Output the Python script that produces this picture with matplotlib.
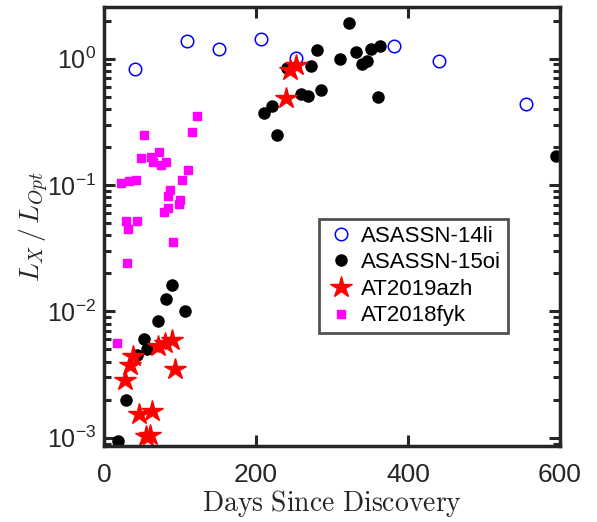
import numpy as np
import matplotlib
matplotlib.use("Agg")
import matplotlib.pyplot as plt

plt.rcParams['font.family'] = ['Liberation Sans', 'DejaVu Sans']
plt.rcParams['mathtext.fontset'] = 'cm'

# ASASSN-14li
days_14li = [41, 109, 151, 206, 253, 381, 441, 555]
ratio_14li = [0.83, 1.37, 1.19, 1.42, 1.01, 1.25, 0.95, 0.434]

# ASASSN-15oi
days_15oi = [19, 29, 43, 52, 56, 71, 82, 90, 107, 211, 221, 228, 241, 259, 269,
             273, 280, 286, 311, 322, 331, 340, 346, 351, 360, 363, 595]
ratio_15oi = [0.00095, 0.0020, 0.0045, 0.0060, 0.0050, 0.0084, 0.0125, 0.0163,
              0.0101, 0.37, 0.42, 0.25, 0.85, 0.53, 0.51, 0.87, 1.18, 0.56, 1.0,
              1.93, 1.12, 0.91, 0.95, 1.19, 0.50, 1.25, 0.169]

# AT2019azh
days_azh = [27.6, 34, 38.6, 46.5, 55, 60.5, 63.6, 70.5, 80, 90, 93, 239.5, 244.7, 252.6]
ratio_azh = [0.00288, 0.00379, 0.0044, 0.00155, 0.00103, 0.00106, 0.00162, 0.00528,
             0.00562, 0.0059, 0.0035, 0.49, 0.81, 0.885]

# AT2018fyk
days_fyk = [16.7, 22.4, 29, 30.7, 32, 33.3, 42, 43, 48.7, 52.5, 61.8, 64.9, 72.5, 75,
            79.4, 81.6, 83.8, 83.8, 86.2, 91, 98.7, 99.6, 103, 111, 116, 122]
ratio_fyk = [0.0056, 0.103, 0.052, 0.0241, 0.0448, 0.108, 0.110, 0.052, 0.164, 0.249,
             0.168, 0.151, 0.181, 0.145, 0.0617, 0.151, 0.0822, 0.0657, 0.0912, 0.0355,
             0.0706, 0.0764, 0.110, 0.132, 0.261, 0.355]

fig = plt.figure(figsize=(5.97, 5.22), dpi=100)
ax = fig.add_axes([0.1742, 0.1456, 0.7638, 0.8404])

ax.plot(days_14li, ratio_14li, 'o', mfc='none', mec='#0000ff', ms=9, mew=1.1, label='ASASSN-14li')
ax.plot(days_15oi, ratio_15oi, 'o', color='k', ms=8, label='ASASSN-15oi')
ax.plot(days_azh, ratio_azh, '*', color='red', ms=16, label='AT2019azh')
ax.plot(days_fyk, ratio_fyk, 's', color='magenta', ms=6, label='AT2018fyk')

ax.set_yscale('log')
ax.set_xlim(0, 600)
ax.set_ylim(8.6e-4, 2.55)
ax.set_xticks([0, 200, 400, 600])

for s in ax.spines.values():
    s.set_linewidth(2.5)
    s.set_color('#262626')
ax.tick_params(which='both', direction='in', top=True, right=True, color='#262626',
               labelsize=18, labelcolor='#262626')
ax.tick_params(axis='x', labelsize=19)
ax.tick_params(which='major', length=8, width=2.2)
ax.tick_params(which='minor', length=5, width=2.2)
ax.tick_params(axis='x', which='major', pad=12)
ax.tick_params(axis='y', which='major', pad=6)

ax.set_xlabel(r'$\mathrm{Days\ Since\ Discovery}$', fontsize=20, color='#262626', labelpad=1)
ax.set_ylabel(r'$L_X\,/\,L_{Opt}$', fontsize=20, color='#262626', labelpad=-3)

leg = ax.legend(loc='lower left', bbox_to_anchor=(0.4715, 0.2576, 0.4145, 0.269), mode='expand',
                fontsize=16, frameon=True, fancybox=False, borderaxespad=0,
                handletextpad=0.2, handlelength=1.4, labelspacing=0.25, borderpad=0.3)
leg.get_frame().set_edgecolor('#262626')
leg.get_frame().set_linewidth(2)

fig.savefig('out.png', dpi=100)
